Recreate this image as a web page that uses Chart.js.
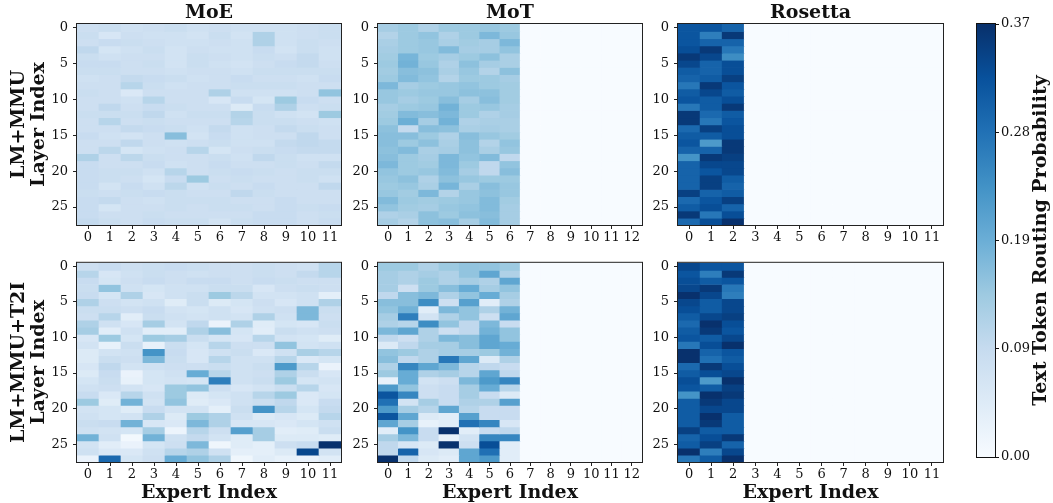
<!DOCTYPE html>
<html>
<head>
<meta charset="utf-8">
<script src="https://cdn.jsdelivr.net/npm/chart.js@4/dist/chart.umd.min.js"></script>
<style>
  html, body { margin: 0; padding: 0; background: #fff; }
  #wrap { position: relative; width: 1053px; height: 503px; overflow: hidden; }
  #wrap canvas { position: absolute; }
</style>
</head>
<body>
<div id="wrap">
  <canvas id="moeMmu" width="345" height="250" style="left:0;top:0"></canvas>
  <canvas id="motMmu" width="300" height="250" style="left:345px;top:0"></canvas>
  <canvas id="rosMmu" width="305" height="250" style="left:645px;top:0"></canvas>
  <canvas id="moeT2i" width="345" height="253" style="left:0;top:250px"></canvas>
  <canvas id="motT2i" width="300" height="253" style="left:345px;top:250px"></canvas>
  <canvas id="rosT2i" width="305" height="253" style="left:645px;top:250px"></canvas>
  <canvas id="cbar" width="103" height="503" style="left:950px;top:0"></canvas>
</div>
<script>
// ---- data ----
const experts12 = ['0', '1', '2', '3', '4', '5', '6', '7', '8', '9', '10', '11'];
const experts13 = ['0', '1', '2', '3', '4', '5', '6', '7', '8', '9', '10', '11', '12'];
const layerTicks = [0, 5, 10, 15, 20, 25];
const vmax = 0.372;
const cbarTicks = [0, 0.093, 0.186, 0.279, 0.372];
const cbarTickLabels = ['0.00', '0.09', '0.19', '0.28', '0.37'];

// rows = layers 0..27, columns = experts
const moeMmu = [
  [.08, .085, .075, .08, .085, .075, .08, .075, .075, .075, .08, .085],
  [.085, .06, .08, .075, .075, .07, .085, .07, .12, .075, .08, .085],
  [.08, .09, .085, .08, .075, .075, .08, .075, .12, .075, .085, .08],
  [.1, .065, .075, .085, .07, .08, .075, .075, .09, .07, .085, .075],
  [.085, .075, .08, .08, .07, .085, .08, .075, .085, .08, .095, .075],
  [.09, .09, .08, .085, .07, .085, .075, .07, .08, .09, .095, .08],
  [.085, .085, .08, .08, .075, .08, .08, .075, .085, .085, .085, .085],
  [.075, .08, .095, .09, .085, .075, .08, .09, .08, .08, .075, .09],
  [.08, .08, .11, .085, .075, .08, .08, .085, .085, .085, .08, .08],
  [.085, .08, .055, .08, .08, .08, .12, .075, .075, .075, .08, .15],
  [.08, .08, .075, .11, .08, .08, .06, .09, .065, .14, .09, .08],
  [.08, .1, .08, .09, .085, .08, .08, .05, .09, .12, .08, .085],
  [.085, .085, .085, .1, .075, .085, .085, .115, .085, .075, .07, .14],
  [.08, .11, .08, .085, .08, .08, .08, .11, .085, .085, .08, .075],
  [.08, .08, .095, .09, .085, .075, .095, .075, .08, .095, .085, .08],
  [.09, .075, .07, .08, .16, .07, .09, .075, .08, .08, .1, .08],
  [.08, .08, .1, .08, .075, .08, .085, .075, .075, .095, .1, .095],
  [.08, .105, .065, .075, .08, .11, .065, .08, .085, .09, .095, .095],
  [.12, .08, .105, .085, .08, .08, .085, .075, .1, .085, .075, .075],
  [.09, .08, .08, .09, .075, .08, .09, .08, .08, .085, .08, .095],
  [.09, .085, .085, .075, .11, .08, .085, .09, .085, .08, .085, .085],
  [.09, .085, .08, .065, .09, .14, .08, .085, .08, .08, .085, .075],
  [.09, .07, .09, .075, .105, .075, .085, .08, .09, .08, .08, .1],
  [.085, .08, .085, .09, .085, .08, .08, .1, .085, .08, .08, .08],
  [.09, .095, .08, .075, .085, .085, .085, .08, .08, .09, .08, .08],
  [.09, .065, .08, .08, .085, .08, .085, .085, .08, .09, .085, .09],
  [.09, .08, .08, .085, .08, .08, .08, .08, .09, .09, .08, .085],
  [.095, .085, .08, .09, .085, .085, .07, .085, .09, .09, .08, .09]
];

const motMmu = [
  [.13, .14, .12, .14, .14, .145, .14, 0, 0, 0, 0, 0, 0],
  [.115, .14, .15, .12, .14, .17, .145, 0, 0, 0, 0, 0, 0],
  [.125, .14, .145, .125, .135, .13, .17, 0, 0, 0, 0, 0, 0],
  [.13, .14, .145, .165, .13, .13, .15, 0, 0, 0, 0, 0, 0],
  [.135, .175, .14, .13, .14, .155, .125, 0, 0, 0, 0, 0, 0],
  [.14, .18, .145, .12, .155, .13, .125, 0, 0, 0, 0, 0, 0],
  [.135, .16, .155, .125, .145, .115, .155, 0, 0, 0, 0, 0, 0],
  [.14, .165, .15, .115, .14, .14, .13, 0, 0, 0, 0, 0, 0],
  [.17, .13, .14, .145, .15, .14, .135, 0, 0, 0, 0, 0, 0],
  [.145, .14, .145, .145, .155, .155, .135, 0, 0, 0, 0, 0, 0],
  [.145, .13, .14, .16, .13, .16, .135, 0, 0, 0, 0, 0, 0],
  [.13, .14, .145, .18, .14, .145, .13, 0, 0, 0, 0, 0, 0],
  [.135, .165, .16, .17, .14, .12, .13, 0, 0, 0, 0, 0, 0],
  [.14, .185, .13, .18, .12, .125, .125, 0, 0, 0, 0, 0, 0],
  [.155, .095, .16, .155, .125, .13, .125, 0, 0, 0, 0, 0, 0],
  [.16, .16, .14, .12, .16, .145, .135, 0, 0, 0, 0, 0, 0],
  [.16, .14, .155, .125, .155, .115, .15, 0, 0, 0, 0, 0, 0],
  [.155, .165, .125, .13, .155, .125, .145, 0, 0, 0, 0, 0, 0],
  [.16, .14, .13, .17, .15, .165, .1, 0, 0, 0, 0, 0, 0],
  [.17, .14, .135, .17, .14, .1, .15, 0, 0, 0, 0, 0, 0],
  [.15, .14, .145, .165, .13, .1, .16, 0, 0, 0, 0, 0, 0],
  [.145, .155, .12, .155, .145, .14, .14, 0, 0, 0, 0, 0, 0],
  [.14, .145, .125, .175, .125, .16, .145, 0, 0, 0, 0, 0, 0],
  [.145, .135, .17, .115, .145, .155, .145, 0, 0, 0, 0, 0, 0],
  [.165, .14, .135, .14, .145, .165, .135, 0, 0, 0, 0, 0, 0],
  [.15, .135, .13, .145, .15, .165, .13, 0, 0, 0, 0, 0, 0],
  [.12, .125, .155, .14, .155, .16, .13, 0, 0, 0, 0, 0, 0],
  [.13, .115, .155, .16, .13, .165, .13, 0, 0, 0, 0, 0, 0]
];

const rosMmu = [
  [.32, .32, .30, 0, 0, 0, 0, 0, 0, 0, 0, 0],
  [.32, .26, .36, 0, 0, 0, 0, 0, 0, 0, 0, 0],
  [.32, .30, .30, 0, 0, 0, 0, 0, 0, 0, 0, 0],
  [.33, .36, .27, 0, 0, 0, 0, 0, 0, 0, 0, 0],
  [.36, .34, .24, 0, 0, 0, 0, 0, 0, 0, 0, 0],
  [.34, .30, .33, 0, 0, 0, 0, 0, 0, 0, 0, 0],
  [.31, .30, .33, 0, 0, 0, 0, 0, 0, 0, 0, 0],
  [.30, .31, .35, 0, 0, 0, 0, 0, 0, 0, 0, 0],
  [.27, .36, .32, 0, 0, 0, 0, 0, 0, 0, 0, 0],
  [.31, .34, .31, 0, 0, 0, 0, 0, 0, 0, 0, 0],
  [.32, .31, .33, 0, 0, 0, 0, 0, 0, 0, 0, 0],
  [.27, .31, .36, 0, 0, 0, 0, 0, 0, 0, 0, 0],
  [.36, .29, .31, 0, 0, 0, 0, 0, 0, 0, 0, 0],
  [.36, .27, .32, 0, 0, 0, 0, 0, 0, 0, 0, 0],
  [.29, .35, .33, 0, 0, 0, 0, 0, 0, 0, 0, 0],
  [.31, .31, .33, 0, 0, 0, 0, 0, 0, 0, 0, 0],
  [.32, .22, .36, 0, 0, 0, 0, 0, 0, 0, 0, 0],
  [.30, .30, .36, 0, 0, 0, 0, 0, 0, 0, 0, 0],
  [.23, .36, .35, 0, 0, 0, 0, 0, 0, 0, 0, 0],
  [.30, .34, .34, 0, 0, 0, 0, 0, 0, 0, 0, 0],
  [.30, .32, .34, 0, 0, 0, 0, 0, 0, 0, 0, 0],
  [.30, .35, .31, 0, 0, 0, 0, 0, 0, 0, 0, 0],
  [.30, .35, .30, 0, 0, 0, 0, 0, 0, 0, 0, 0],
  [.35, .30, .31, 0, 0, 0, 0, 0, 0, 0, 0, 0],
  [.29, .32, .35, 0, 0, 0, 0, 0, 0, 0, 0, 0],
  [.31, .33, .30, 0, 0, 0, 0, 0, 0, 0, 0, 0],
  [.36, .27, .33, 0, 0, 0, 0, 0, 0, 0, 0, 0],
  [.29, .33, .37, 0, 0, 0, 0, 0, 0, 0, 0, 0]
];

const moeT2i = [
  [.08, .09, .08, .085, .09, .085, .08, .08, .085, .08, .075, .11],
  [.11, .06, .075, .085, .08, .075, .08, .08, .085, .08, .095, .11],
  [.09, .065, .08, .09, .08, .09, .09, .08, .09, .085, .08, .08],
  [.085, .15, .075, .065, .075, .075, .085, .085, .06, .08, .085, .08],
  [.09, .065, .12, .06, .075, .085, .14, .105, .07, .07, .075, .035],
  [.12, .08, .07, .075, .045, .085, .05, .065, .08, .06, .075, .12],
  [.085, .085, .08, .09, .07, .065, .075, .06, .075, .08, .17, .085],
  [.08, .11, .04, .085, .075, .07, .075, .07, .12, .075, .17, .08],
  [.12, .075, .06, .13, .07, .1, .025, .12, .045, .065, .06, .085],
  [.13, .04, .075, .04, .04, .12, .16, .065, .04, .085, .075, .08],
  [.06, .14, .065, .14, .13, .085, .065, .06, .11, .07, .065, .045],
  [.07, .03, .085, .03, .085, .065, .11, .08, .08, .15, .07, .075],
  [.05, .07, .075, .23, .09, .06, .075, .085, .055, .075, .125, .11],
  [.05, .085, .08, .17, .085, .06, .11, .075, .075, .11, .055, .065],
  [.06, .1, .07, .075, .08, .08, .085, .075, .085, .22, .11, .025],
  [.05, .09, .025, .065, .075, .19, .11, .075, .08, .12, .085, .06],
  [.065, .085, .03, .065, .07, .065, .26, .075, .085, .14, .065, .07],
  [.075, .08, .07, .06, .14, .15, .08, .06, .07, .085, .11, .06],
  [.09, .055, .11, .075, .14, .05, .065, .075, .11, .14, .055, .065],
  [.14, .045, .18, .07, .15, .045, .055, .075, .085, .1, .055, .09],
  [.07, .065, .045, .09, .07, .07, .035, .085, .23, .11, .065, .095],
  [.075, .065, .07, .12, .05, .14, .12, .075, .05, .06, .05, .11],
  [.085, .09, .18, .06, .055, .17, .12, .06, .06, .055, .065, .075],
  [.075, .07, .065, .13, .02, .11, .08, .21, .13, .04, .045, .085],
  [.18, .075, .01, .18, .075, .095, .07, .045, .13, .05, .05, .045],
  [.07, .04, .025, .065, .08, .17, .015, .045, .035, .08, .09, .37],
  [.075, .055, .055, .075, .11, .12, .075, .035, .035, .05, .34, .07],
  [.025, .29, .065, .08, .19, .15, .12, .015, .04, .03, .025, .04]
];

const motT2i = [
  [.14, .14, .12, .14, .15, .15, .14, 0, 0, 0, 0, 0, 0],
  [.13, .12, .13, .12, .15, .2, .12, 0, 0, 0, 0, 0, 0],
  [.13, .12, .14, .12, .13, .12, .2, 0, 0, 0, 0, 0, 0],
  [.13, .08, .14, .16, .19, .13, .15, 0, 0, 0, 0, 0, 0],
  [.1, .16, .17, .12, .15, .19, .13, 0, 0, 0, 0, 0, 0],
  [.16, .16, .24, .08, .21, .04, .12, 0, 0, 0, 0, 0, 0],
  [.15, .18, .04, .17, .15, .12, .18, 0, 0, 0, 0, 0, 0],
  [.13, .26, .07, .12, .15, .08, .2, 0, 0, 0, 0, 0, 0],
  [.12, .11, .24, .15, .1, .17, .09, 0, 0, 0, 0, 0, 0],
  [.17, .2, .12, .08, .1, .18, .15, 0, 0, 0, 0, 0, 0],
  [.1, .08, .12, .17, .16, .2, .15, 0, 0, 0, 0, 0, 0],
  [.05, .1, .13, .13, .16, .2, .19, 0, 0, 0, 0, 0, 0],
  [.15, .14, .12, .13, .13, .14, .18, 0, 0, 0, 0, 0, 0],
  [.16, .1, .12, .27, .2, .05, .12, 0, 0, 0, 0, 0, 0],
  [.12, .25, .2, .17, .11, .1, .09, 0, 0, 0, 0, 0, 0],
  [.14, .19, .12, .13, .11, .2, .1, 0, 0, 0, 0, 0, 0],
  [.03, .19, .07, .08, .17, .22, .25, 0, 0, 0, 0, 0, 0],
  [.22, .15, .08, .09, .13, .19, .11, 0, 0, 0, 0, 0, 0],
  [.32, .25, .08, .09, .13, .09, .05, 0, 0, 0, 0, 0, 0],
  [.28, .07, .13, .09, .12, .12, .21, 0, 0, 0, 0, 0, 0],
  [.22, .13, .11, .2, .11, .09, .09, 0, 0, 0, 0, 0, 0],
  [.32, .2, .05, .04, .21, .09, .09, 0, 0, 0, 0, 0, 0],
  [.2, .13, .03, .04, .28, .25, .06, 0, 0, 0, 0, 0, 0],
  [.04, .23, .09, .37, .04, .09, .1, 0, 0, 0, 0, 0, 0],
  [.13, .17, .09, .03, .07, .25, .25, 0, 0, 0, 0, 0, 0],
  [.1, .06, .05, .37, .08, .33, .04, 0, 0, 0, 0, 0, 0],
  [.1, .3, .06, .05, .2, .28, .04, 0, 0, 0, 0, 0, 0],
  [.37, .1, .05, .04, .2, .22, .04, 0, 0, 0, 0, 0, 0]
];

const rosT2i = [
  [.34, .32, .32, 0, 0, 0, 0, 0, 0, 0, 0, 0],
  [.32, .26, .36, 0, 0, 0, 0, 0, 0, 0, 0, 0],
  [.33, .31, .32, 0, 0, 0, 0, 0, 0, 0, 0, 0],
  [.34, .36, .27, 0, 0, 0, 0, 0, 0, 0, 0, 0],
  [.37, .34, .26, 0, 0, 0, 0, 0, 0, 0, 0, 0],
  [.34, .31, .34, 0, 0, 0, 0, 0, 0, 0, 0, 0],
  [.33, .31, .34, 0, 0, 0, 0, 0, 0, 0, 0, 0],
  [.31, .34, .35, 0, 0, 0, 0, 0, 0, 0, 0, 0],
  [.29, .37, .33, 0, 0, 0, 0, 0, 0, 0, 0, 0],
  [.31, .36, .32, 0, 0, 0, 0, 0, 0, 0, 0, 0],
  [.32, .31, .34, 0, 0, 0, 0, 0, 0, 0, 0, 0],
  [.27, .33, .37, 0, 0, 0, 0, 0, 0, 0, 0, 0],
  [.37, .30, .32, 0, 0, 0, 0, 0, 0, 0, 0, 0],
  [.37, .28, .31, 0, 0, 0, 0, 0, 0, 0, 0, 0],
  [.29, .36, .33, 0, 0, 0, 0, 0, 0, 0, 0, 0],
  [.31, .33, .34, 0, 0, 0, 0, 0, 0, 0, 0, 0],
  [.33, .22, .37, 0, 0, 0, 0, 0, 0, 0, 0, 0],
  [.32, .31, .35, 0, 0, 0, 0, 0, 0, 0, 0, 0],
  [.23, .37, .36, 0, 0, 0, 0, 0, 0, 0, 0, 0],
  [.31, .36, .34, 0, 0, 0, 0, 0, 0, 0, 0, 0],
  [.31, .34, .34, 0, 0, 0, 0, 0, 0, 0, 0, 0],
  [.31, .37, .31, 0, 0, 0, 0, 0, 0, 0, 0, 0],
  [.31, .36, .31, 0, 0, 0, 0, 0, 0, 0, 0, 0],
  [.35, .31, .31, 0, 0, 0, 0, 0, 0, 0, 0, 0],
  [.30, .33, .36, 0, 0, 0, 0, 0, 0, 0, 0, 0],
  [.31, .35, .30, 0, 0, 0, 0, 0, 0, 0, 0, 0],
  [.37, .26, .34, 0, 0, 0, 0, 0, 0, 0, 0, 0],
  [.27, .31, .37, 0, 0, 0, 0, 0, 0, 0, 0, 0]
];

// ---- styling helpers ----
const SERIF = "'DejaVu Serif', 'Liberation Serif', serif";
const TEXT = '#111';

// matplotlib "Blues"
const bluesStops = ['#f7fbff', '#deebf7', '#c6dbef', '#9ecae1', '#6baed6', '#4292c6', '#2171b5', '#08519c', '#08306b']
  .map(h => [parseInt(h.slice(1, 3), 16), parseInt(h.slice(3, 5), 16), parseInt(h.slice(5, 7), 16)]);

function blues(t) {
  t = Math.max(0, Math.min(1, t));
  const p = t * (bluesStops.length - 1);
  const i = Math.min(Math.floor(p), bluesStops.length - 2);
  const f = p - i;
  const a = bluesStops[i], b = bluesStops[i + 1];
  const c = a.map((v, k) => Math.round(v + (b[k] - v) * f));
  return `rgb(${c[0]}, ${c[1]}, ${c[2]})`;
}

// panel title + frame drawn around the chart area
const panelDecor = {
  id: 'panelDecor',
  afterDraw(chart, args, opts) {
    const { ctx, chartArea: a } = chart;
    ctx.save();
    ctx.strokeStyle = '#222';
    ctx.lineWidth = 1;
    ctx.strokeRect(a.left - 0.5, a.top - 0.5, a.right - a.left + 1, a.bottom - a.top + 1);
    if (opts.title) {
      ctx.fillStyle = TEXT;
      ctx.font = `bold 19px ${SERIF}`;
      ctx.textAlign = 'center';
      ctx.textBaseline = 'middle';
      ctx.fillText(opts.title, (a.left + a.right) / 2, a.top - 11);
    }
    ctx.restore();
  },
};

function makeHeatmap(id, grid, labels, cfg) {
  const datasets = grid.map((row, r) => ({
    data: row.map(() => [r - 0.5, r + 0.6]),
    backgroundColor: row.map(v => blues(v / vmax)),
    borderWidth: 0,
    grouped: false,
    barPercentage: 1.03,
    categoryPercentage: 1,
  }));

  return new Chart(document.getElementById(id), {
    type: 'bar',
    data: { labels, datasets },
    options: {
      responsive: false,
      animation: false,
      events: [],
      layout: { padding: cfg.padding },
      plugins: {
        legend: { display: false },
        tooltip: { enabled: false },
        panelDecor: { title: cfg.title || '' },
      },
      scales: {
        x: {
          type: 'category',
          offset: true,
          grid: { offset: false, drawOnChartArea: false, tickLength: 4, tickColor: '#222', tickWidth: 1 },
          border: { display: false },
          ticks: { font: { family: SERIF, size: 13 }, color: TEXT, padding: 1, maxRotation: 0, autoSkip: false },
          title: {
            display: !!cfg.xTitle,
            text: cfg.xTitle || '',
            font: { family: SERIF, size: 19, weight: 'bold', lineHeight: 1.05 },
            color: TEXT,
            padding: { top: 0, bottom: 0 },
          },
          afterFit: (s) => { s.height = cfg.xH; },
        },
        y: {
          type: 'linear',
          reverse: true,
          min: -0.5,
          max: 27.5,
          afterBuildTicks: (s) => { s.ticks = layerTicks.map(v => ({ value: v })); },
          grid: { drawOnChartArea: false, tickLength: 4, tickColor: '#222', tickWidth: 1 },
          border: { display: false },
          ticks: { font: { family: SERIF, size: 13 }, color: TEXT, padding: 5 },
          title: {
            display: !!cfg.yTitle,
            text: cfg.yTitle || '',
            font: { family: SERIF, size: 19, weight: 'bold', lineHeight: 1.05 },
            color: TEXT,
            padding: { top: 9.5, bottom: 0 },
          },
          afterFit: (s) => { s.width = cfg.yW; },
        },
      },
    },
    plugins: [panelDecor],
  });
}

const topPad = (right) => ({ top: 24, right, bottom: 0, left: 0 });
const botPad = (right) => ({ top: 11, right, bottom: 0, left: 0 });

makeHeatmap('moeMmu', moeMmu, experts12, { title: 'MoE', yTitle: ['LM+MMU', 'Layer Index'], yW: 77, xH: 25, padding: topPad(4) });
makeHeatmap('motMmu', motMmu, experts13, { title: 'MoT', yW: 33, xH: 25, padding: topPad(3) });
makeHeatmap('rosMmu', rosMmu, experts12, { title: 'Rosetta', yW: 33, xH: 25, padding: topPad(7) });
makeHeatmap('moeT2i', moeT2i, experts12, { yTitle: ['LM+MMU+T2I', 'Layer Index'], xTitle: 'Expert Index', yW: 77, xH: 41, padding: botPad(4) });
makeHeatmap('motT2i', motT2i, experts13, { xTitle: 'Expert Index', yW: 33, xH: 41, padding: botPad(3) });
makeHeatmap('rosT2i', rosT2i, experts12, { xTitle: 'Expert Index', yW: 33, xH: 41, padding: botPad(7) });

// ---- colorbar ----
const colorbarFill = {
  id: 'colorbarFill',
  beforeDatasetsDraw(chart) {
    const { ctx, chartArea: a, scales: { y } } = chart;
    const y0 = y.getPixelForValue(0), y1 = y.getPixelForValue(vmax);
    const g = ctx.createLinearGradient(0, y0, 0, y1);
    bluesStops.forEach((c, i) => g.addColorStop(i / (bluesStops.length - 1), `rgb(${c[0]}, ${c[1]}, ${c[2]})`));
    ctx.save();
    ctx.fillStyle = g;
    ctx.fillRect(a.left, y1, a.right - a.left, y0 - y1);
    ctx.restore();
  },
  afterDraw(chart) {
    const { ctx, chartArea: a } = chart;
    ctx.save();
    ctx.strokeStyle = '#111';
    ctx.lineWidth = 1;
    ctx.strokeRect(a.left - 0.5, a.top - 0.5, a.right - a.left + 1, a.bottom - a.top + 1);
    ctx.translate(a.right + 46, (a.top + a.bottom) / 2);
    ctx.rotate(-Math.PI / 2);
    ctx.fillStyle = TEXT;
    ctx.font = `bold 19px ${SERIF}`;
    ctx.textAlign = 'center';
    ctx.textBaseline = 'middle';
    ctx.fillText('Text Token Routing Probability', 0, 0);
    ctx.restore();
  },
};

new Chart(document.getElementById('cbar'), {
  type: 'bar',
  data: { labels: [''], datasets: [{ data: [] }] },
  options: {
    responsive: false,
    animation: false,
    events: [],
    layout: { padding: { top: 24, bottom: 46, left: 27, right: 0 } },
    plugins: { legend: { display: false }, tooltip: { enabled: false } },
    scales: {
      x: { display: false },
      y: {
        position: 'right',
        min: 0,
        max: vmax,
        afterBuildTicks: (s) => { s.ticks = cbarTicks.map(v => ({ value: v })); },
        grid: { drawOnChartArea: false, tickLength: 4, tickColor: '#111', tickWidth: 1 },
        border: { display: false },
        ticks: {
          font: { family: SERIF, size: 13 },
          color: TEXT,
          padding: 2,
          callback: (v, i) => cbarTickLabels[i],
        },
        afterFit: (s) => { s.width = 58; },
      },
    },
  },
  plugins: [colorbarFill],
});
</script>
</body>
</html>
